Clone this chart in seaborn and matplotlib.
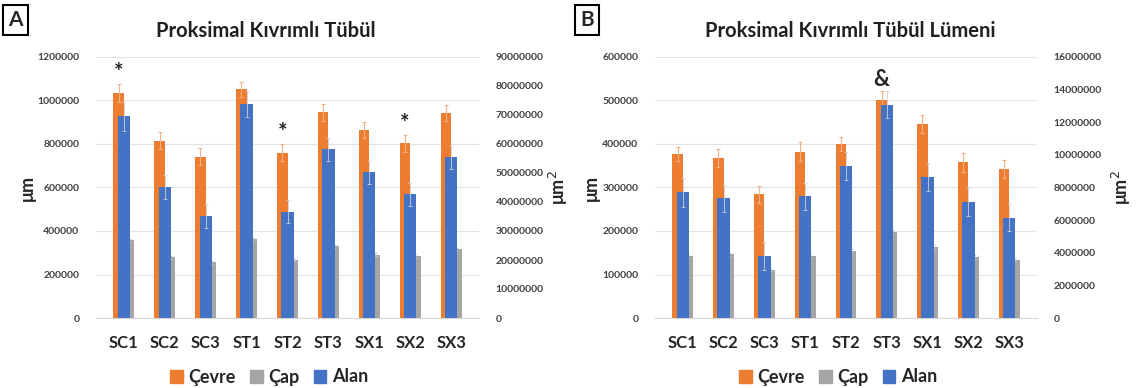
import pandas as pd
import seaborn as sns
import matplotlib.pyplot as plt
from matplotlib.patches import Patch

groups = ['SC1', 'SC2', 'SC3', 'ST1', 'ST2', 'ST3', 'SX1', 'SX2', 'SX3']

# Panel A - Proksimal Kıvrımlı Tübül
a_cevre = [1034000, 815000, 742000, 1052000, 760000, 945000, 865000, 803000, 942000]
a_cevre_err = [40000, 40000, 38000, 35000, 40000, 40000, 38000, 38000, 38000]
a_cap = [357000, 280000, 257000, 362000, 268000, 329000, 291000, 285000, 315000]
a_cap_err = [8000, 7000, 7000, 8000, 7000, 8000, 7000, 7000, 8000]
a_alan = [69500000, 45200000, 35200000, 73900000, 36600000, 58200000, 50300000, 42600000, 55400000]
a_alan_err = [5000000, 4000000, 4000000, 4500000, 4000000, 4000000, 4000000, 4000000, 4000000]
a_marks = {'SC1': '*', 'ST2': '*', 'SX2': '*'}

# Panel B - Proksimal Kıvrımlı Tübül Lümeni
b_cevre = [377000, 368000, 284000, 382000, 400000, 500000, 446000, 358000, 343000]
b_cevre_err = [17000, 21000, 19000, 22000, 15000, 21000, 21000, 22000, 21000]
b_cap = [142000, 146000, 111000, 142000, 155000, 198000, 163000, 140000, 134000]
b_cap_err = [4000, 4000, 3000, 4000, 4000, 5000, 4000, 4000, 4000]
b_alan = [7710000, 7340000, 3790000, 7470000, 9330000, 13070000, 8640000, 7120000, 6150000]
b_alan_err = [880000, 840000, 860000, 820000, 860000, 820000, 840000, 880000, 820000]
b_marks = {'ST3': '&'}

colors = {'Çevre': '#ED7D31', 'Çap': '#A5A5A5', 'Alan': '#4472C4'}

sns.set_style("white")
plt.rcParams['font.family'] = ['Lato', 'DejaVu Sans']

fig = plt.figure(figsize=(11.39, 3.88), dpi=100)


def draw_panel(rect, letter, letter_x, title, title_x, cevre, cevre_err, cap, cap_err,
               alan, alan_err, ymax, ystep, y2max, y2step, marks, legend_x, pad_left, pad_right):
    ax = fig.add_axes(rect)
    df = pd.DataFrame({
        'grup': groups * 2,
        'olcum': ['Çevre'] * len(groups) + ['Çap'] * len(groups),
        'deger': cevre + cap,
    })
    sns.barplot(data=df, x='grup', y='deger', hue='olcum', palette=colors,
                width=0.51, saturation=1, errorbar=None, legend=False,
                linewidth=0, ax=ax)
    errs = {'Çevre': cevre_err, 'Çap': cap_err}
    for cont, name in zip(ax.containers, ['Çevre', 'Çap']):
        for bar, e in zip(cont, errs[name]):
            ax.errorbar(bar.get_x() + bar.get_width() / 2, bar.get_height(), yerr=e,
                        color='#F4B183' if name == 'Çevre' else '#C9C9C9',
                        lw=0.8, capsize=1.5, capthick=0.8, zorder=3)
    ax.set_ylim(0, ymax)
    ax.set_yticks(range(0, ymax + 1, ystep))
    ax.ticklabel_format(axis='y', style='plain', useOffset=False)
    ax.yaxis.grid(True, color='#E3E3E3', lw=0.8)
    ax.set_axisbelow(True)
    for s in ['top', 'right', 'left']:
        ax.spines[s].set_visible(False)
    ax.spines['bottom'].set_color('#D9D9D9')
    ax.tick_params(axis='y', length=0, labelsize=7.5, labelcolor='#404040', pad=12)
    ax.tick_params(axis='x', length=0, labelsize=12, pad=12)
    for t in ax.get_xticklabels():
        t.set_fontweight('bold')
    for t in ax.get_yticklabels():
        t.set_fontweight('bold')
    ax.set_xlabel('')
    ax.set_ylabel('μm', fontsize=13, fontweight='bold', labelpad=pad_left)

    ax2 = ax.twinx()
    sns.barplot(x=groups, y=alan, color=colors['Alan'], width=0.3, saturation=1,
                errorbar=None, linewidth=0, ax=ax2)
    for bar, e in zip(ax2.containers[0], alan_err):
        ax2.errorbar(bar.get_x() + bar.get_width() / 2, bar.get_height(), yerr=e,
                     color='#D0D0D0', lw=0.6, capsize=1.2, capthick=0.6, zorder=1)
    ax2.set_ylim(0, y2max)
    ax2.set_yticks(range(0, y2max + 1, y2step))
    ax2.ticklabel_format(axis='y', style='plain', useOffset=False)
    for s in ['top', 'right', 'left', 'bottom']:
        ax2.spines[s].set_visible(False)
    ax2.tick_params(axis='y', length=0, labelsize=7.5, labelcolor='#404040', pad=12)
    for t in ax2.get_yticklabels():
        t.set_fontweight('bold')
    ax2.set_ylabel('μm$^2$', fontsize=13, fontweight='bold', labelpad=pad_right)

    # significance marks above the Çevre bars
    for bar, g, e in zip(ax.containers[0], groups, cevre_err):
        if g in marks:
            ax.annotate(marks[g], (bar.get_x() + bar.get_width() / 2, bar.get_height() + e),
                        xytext=(0, 1), textcoords='offset points', ha='center', va='bottom',
                        fontsize=16, fontweight='bold')

    fig.text(letter_x, 1 - 20 / 388, letter, fontsize=15, fontweight='bold', ha='left',
             va='center', bbox=dict(boxstyle='square,pad=0.25', fc='white', ec='black', lw=1.5))
    fig.text(title_x, 1 - 31 / 388, title, fontsize=14.5, fontweight='bold', color='#202020',
             ha='center', va='center')

    handles = [Patch(color=colors[k]) for k in ['Çevre', 'Çap', 'Alan']]
    fig.legend(handles, ['Çevre', 'Çap', 'Alan'], loc='center', ncol=3,
               bbox_to_anchor=(legend_x, 1 - 377 / 388), frameon=False,
               prop={'size': 13, 'weight': 'bold'}, handlelength=0.7, handleheight=0.7,
               handletextpad=0.3, columnspacing=0.8)
    return ax, ax2


draw_panel([96 / 1139, 1 - 318 / 388, 383 / 1139, 261 / 388], 'A', 8 / 1139,
           'Proksimal Kıvrımlı Tübül', 266 / 1139,
           a_cevre, a_cevre_err, a_cap, a_cap_err, a_alan, a_alan_err,
           1200000, 200000, 90000000, 10000000, a_marks, 269 / 1139, 1, 2)
draw_panel([655 / 1139, 1 - 318 / 388, 382 / 1139, 261 / 388], 'B', 580 / 1139,
           'Proksimal Kıvrımlı Tübül Lümeni', 850 / 1139,
           b_cevre, b_cevre_err, b_cap, b_cap_err, b_alan, b_alan_err,
           600000, 100000, 16000000, 2000000, b_marks, 838 / 1139, 2, 6)

fig.savefig('out.png', dpi=100, facecolor='white')
